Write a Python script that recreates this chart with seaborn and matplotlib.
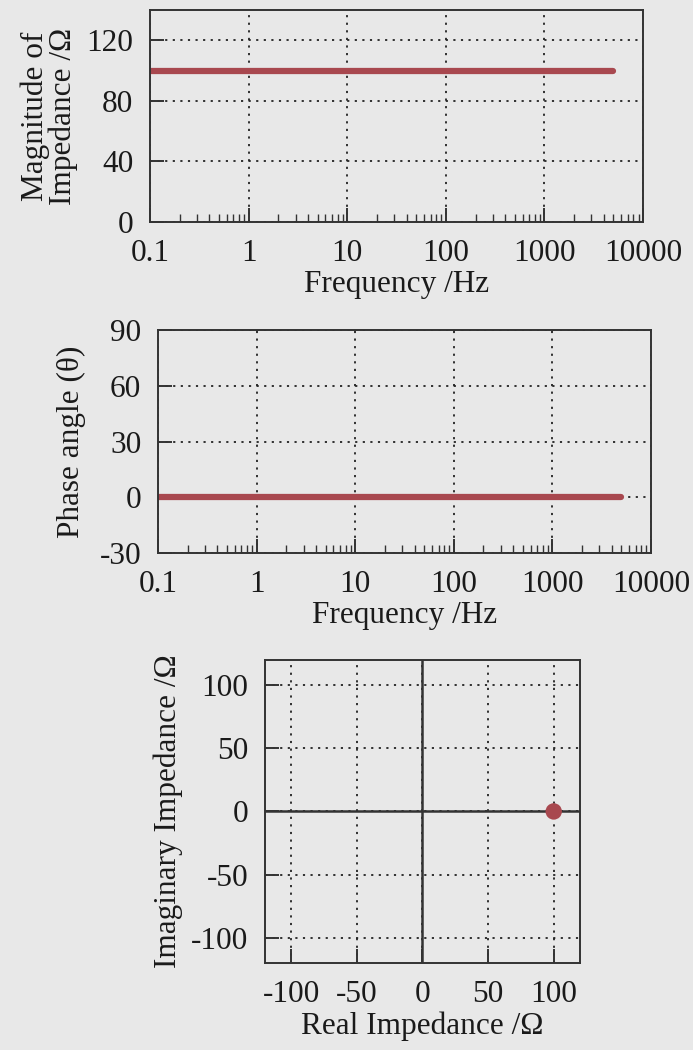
import matplotlib
matplotlib.use("Agg")
import matplotlib.pyplot as plt
import matplotlib.ticker as mticker
import seaborn as sns
import pandas as pd

# Impedance sweep of a 100 ohm resistor
frequency_hz = [0.1, 0.2, 0.5, 1, 2, 5, 10, 20, 50, 100, 200, 500, 1000, 2000, 5000]
magnitude_ohm = [100, 100, 100, 100, 100, 100, 100, 100, 100, 100, 100, 100, 100, 100, 100]
phase_deg = [0, 0, 0, 0, 0, 0, 0, 0, 0, 0, 0, 0, 0, 0, 0]
real_ohm = [100]
imag_ohm = [0]

freq_ticks = [0.1, 1, 10, 100, 1000, 10000]
freq_labels = ["0.1", "1", "10", "100", "1000", "10000"]
mag_ticks = [0, 40, 80, 120]
phase_ticks = [-30, 0, 30, 60, 90]
nyq_ticks = [-100, -50, 0, 50, 100]

sns.set_theme(style="white")
BG = "#e8e8e8"
LINE = "#a8484f"
INK = "#333333"
TXT = "#1a1a1a"
plt.rcParams["font.family"] = ["Liberation Serif", "DejaVu Serif"]
plt.rcParams["axes.unicode_minus"] = False
FS = 22.5

fig = plt.figure(figsize=(6.93, 10.5), dpi=100)
fig.patch.set_facecolor(BG)

ax1 = fig.add_axes([0.2165, 0.7886, 0.7114, 0.2019])
ax2 = fig.add_axes([0.228, 0.4733, 0.7114, 0.2124])
ax3 = fig.add_axes([0.3824, 0.0829, 0.4545, 0.2886])

df = pd.DataFrame({"f": frequency_hz, "mag": magnitude_ohm, "ph": phase_deg})
nyq = pd.DataFrame({"re": real_ohm, "im": imag_ohm})


def style_axes(ax):
    ax.set_facecolor(BG)
    for sp in ax.spines.values():
        sp.set_color(INK)
        sp.set_linewidth(1.4)
    ax.grid(True, which="major", linestyle=(0, (1.2, 3.0)), color="#222222", linewidth=1.3)
    ax.tick_params(axis="both", which="both", direction="in", colors=INK,
                   labelcolor=TXT, labelsize=FS, bottom=True, left=True,
                   top=False, right=False)
    ax.tick_params(axis="both", which="major", length=10, width=1.4, pad=12)
    ax.tick_params(axis="x", which="minor", length=6, width=1.0)
    ax.set_axisbelow(True)


def freq_axis(ax):
    ax.set_xscale("log")
    ax.set_xlim(0.1, 10000)
    ax.set_xticks(freq_ticks)
    ax.set_xticklabels(freq_labels)
    ax.xaxis.set_minor_locator(mticker.LogLocator(base=10, subs=range(2, 10)))
    ax.xaxis.set_minor_formatter(mticker.NullFormatter())
    ax.set_xlabel("Frequency /Hz", fontsize=FS, color=TXT, labelpad=2)


# Magnitude
sns.lineplot(data=df, x="f", y="mag", ax=ax1, color=LINE, linewidth=4.5)
style_axes(ax1)
freq_axis(ax1)
ax1.set_ylim(0, 140)
ax1.set_yticks(mag_ticks)
ax1.set_ylabel("Magnitude of\nImpedance /\u03a9", fontsize=FS, color=TXT,
               linespacing=0.95, labelpad=6)

# Phase
sns.lineplot(data=df, x="f", y="ph", ax=ax2, color=LINE, linewidth=4.5)
style_axes(ax2)
freq_axis(ax2)
ax2.set_ylim(-30, 90)
ax2.set_yticks(phase_ticks)
ax2.set_ylabel("Phase angle (\u03b8)", fontsize=FS, color=TXT, labelpad=10)

# Nyquist
style_axes(ax3)
ax3.axhline(0, color=INK, linewidth=1.8, zorder=2)
ax3.axvline(0, color=INK, linewidth=1.8, zorder=2)
sns.scatterplot(data=nyq, x="re", y="im", ax=ax3, color=LINE, s=140,
                edgecolor="none", zorder=3)
ax3.set_xlim(-120, 120)
ax3.set_ylim(-120, 120)
ax3.set_xticks(nyq_ticks)
ax3.set_yticks(nyq_ticks)
ax3.set_xlabel("Real Impedance /\u03a9", fontsize=FS, color=TXT, labelpad=2)
ax3.set_ylabel("Imaginary Impedance /\u03a9", fontsize=FS, color=TXT, labelpad=6)

fig.savefig("out.png", dpi=100, facecolor=BG)
